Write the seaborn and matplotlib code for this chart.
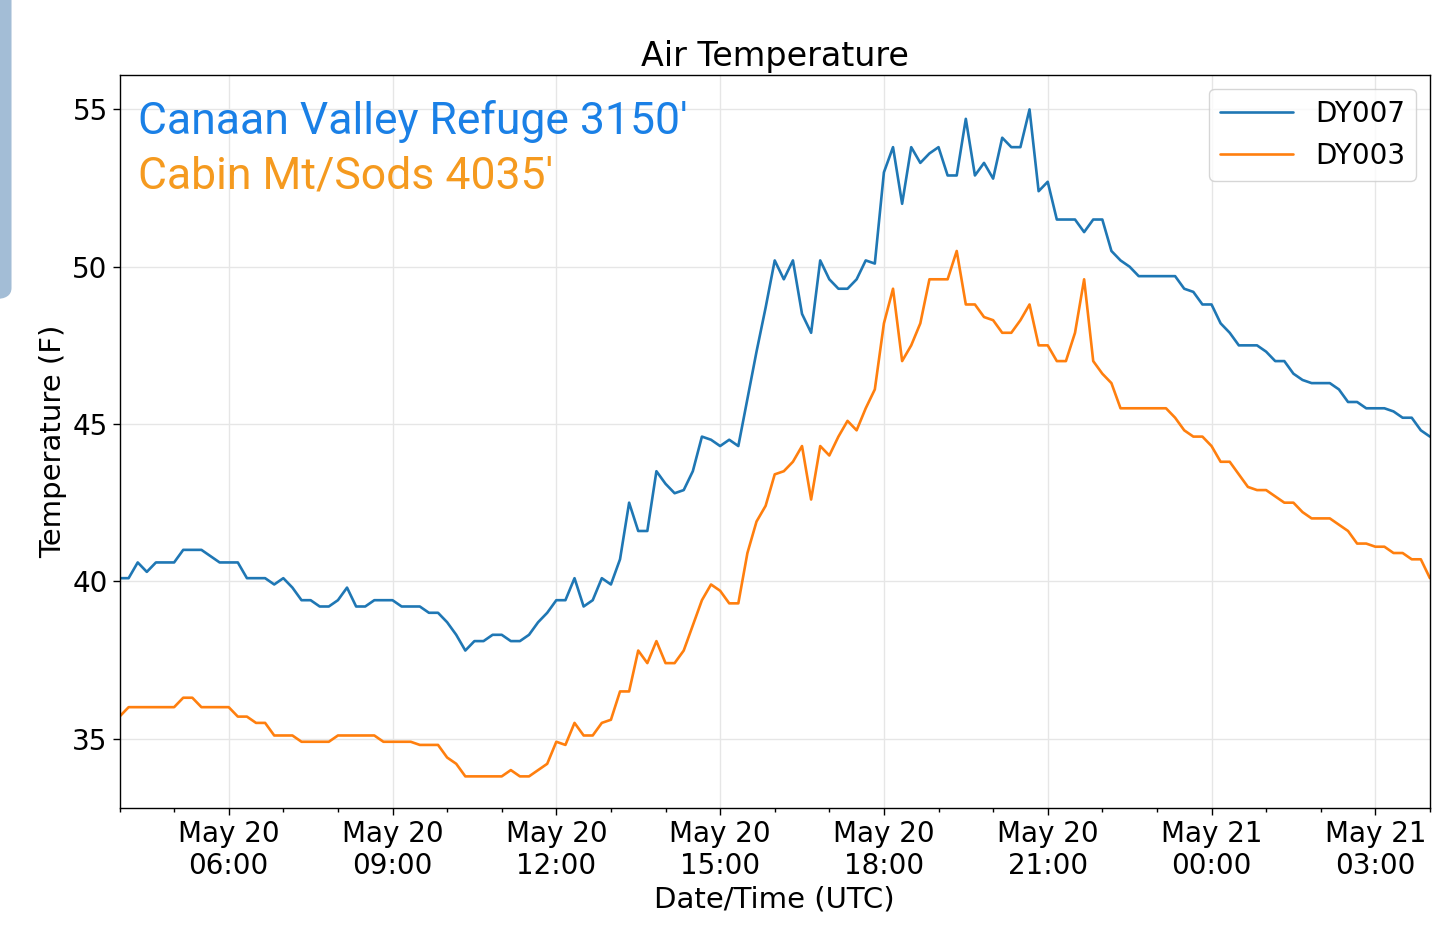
import matplotlib
matplotlib.use("Agg")
import matplotlib.pyplot as plt
import matplotlib.dates as mdates
from matplotlib.patches import FancyBboxPatch
import seaborn as sns
import pandas as pd

dy007 = [40.1,40.1,40.6,40.3,40.6,40.6,40.6,41.0,41.0,41.0,40.8,40.6,40.6,40.6,40.1,40.1,40.1,39.9,40.1,39.8,
         39.4,39.4,39.2,39.2,39.4,39.8,39.2,39.2,39.4,39.4,39.4,39.2,39.2,39.2,39.0,39.0,38.7,38.3,37.8,38.1,
         38.1,38.3,38.3,38.1,38.1,38.3,38.7,39.0,39.4,39.4,40.1,39.2,39.4,40.1,39.9,40.7,42.5,41.6,41.6,43.5,
         43.1,42.8,42.9,43.5,44.6,44.5,44.3,44.5,44.3,45.8,47.3,48.7,50.2,49.6,50.2,48.5,47.9,50.2,49.6,49.3,
         49.3,49.6,50.2,50.1,53.0,53.8,52.0,53.8,53.3,53.6,53.8,52.9,52.9,54.7,52.9,53.3,52.8,54.1,53.8,53.8,
         55.0,52.4,52.7,51.5,51.5,51.5,51.1,51.5,51.5,50.5,50.2,50.0,49.7,49.7,49.7,49.7,49.7,49.3,49.2,48.8,
         48.8,48.2,47.9,47.5,47.5,47.5,47.3,47.0,47.0,46.6,46.4,46.3,46.3,46.3,46.1,45.7,45.7,45.5,45.5,45.5,
         45.4,45.2,45.2,44.8,44.6]
dy003 = [35.7,36.0,36.0,36.0,36.0,36.0,36.0,36.3,36.3,36.0,36.0,36.0,36.0,35.7,35.7,35.5,35.5,35.1,35.1,35.1,
         34.9,34.9,34.9,34.9,35.1,35.1,35.1,35.1,35.1,34.9,34.9,34.9,34.9,34.8,34.8,34.8,34.4,34.2,33.8,33.8,
         33.8,33.8,33.8,34.0,33.8,33.8,34.0,34.2,34.9,34.8,35.5,35.1,35.1,35.5,35.6,36.5,36.5,37.8,37.4,38.1,
         37.4,37.4,37.8,38.6,39.4,39.9,39.7,39.3,39.3,40.9,41.9,42.4,43.4,43.5,43.8,44.3,42.6,44.3,44.0,44.6,
         45.1,44.8,45.5,46.1,48.2,49.3,47.0,47.5,48.2,49.6,49.6,49.6,50.5,48.8,48.8,48.4,48.3,47.9,47.9,48.3,
         48.8,47.5,47.5,47.0,47.0,47.9,49.6,47.0,46.6,46.3,45.5,45.5,45.5,45.5,45.5,45.5,45.2,44.8,44.6,44.6,
         44.3,43.8,43.8,43.4,43.0,42.9,42.9,42.7,42.5,42.5,42.2,42.0,42.0,42.0,41.8,41.6,41.2,41.2,41.1,41.1,
         40.9,40.9,40.7,40.7,40.1]

start = pd.Timestamp("2023-05-20 04:00")
df = pd.concat([
    pd.DataFrame({"time": pd.date_range(start, periods=len(dy007), freq="10min"), "temp": dy007, "station": "DY007"}),
    pd.DataFrame({"time": pd.date_range(start, periods=len(dy003), freq="10min"), "temp": dy003, "station": "DY003"}),
])

sns.set_theme(style="white")
plt.rcParams['font.family'] = ['DejaVu Sans']
plt.rcParams['text.color'] = 'black'
plt.rcParams['axes.labelcolor'] = 'black'
plt.rcParams['xtick.color'] = 'black'
plt.rcParams['ytick.color'] = 'black'
fig = plt.figure(figsize=(14.4, 9.35), dpi=100)
ax = fig.add_axes([0.083, 0.136, 0.910, 0.784])
sns.lineplot(data=df, x="time", y="temp", hue="station", palette=["#1f77b4", "#ff7f0e"], lw=1.9, ax=ax)
ax.set_xlim(start, pd.Timestamp("2023-05-21 04:00"))
ax.set_ylim(32.8, 56.1)
ax.set_yticks([35, 40, 45, 50, 55])
ax.xaxis.set_major_locator(mdates.HourLocator(byhour=[0, 3, 6, 9, 12, 15, 18, 21]))
ax.xaxis.set_minor_locator(mdates.HourLocator())
ax.xaxis.set_major_formatter(mdates.DateFormatter("%b %d\n%H:%M"))
ax.grid(True, color="#e6e6e6", lw=1)
for s in ax.spines.values():
    s.set_color("black"); s.set_linewidth(1)
ax.tick_params(axis="both", which="major", labelsize=20, length=5, width=1, color="black", bottom=True, left=True)
ax.tick_params(axis="x", which="minor", length=3, width=1, color="black", bottom=True)
for t in ax.get_xticklabels():
    t.set_ha("center")
ax.set_xlabel("Date/Time (UTC)", fontsize=21)
ax.set_ylabel("Temperature (F)", fontsize=21)
ax.set_title("Air Temperature", fontsize=24, pad=6)
leg = ax.legend(title=None, loc="upper right", fontsize=20, frameon=True, handlelength=2.6)
leg.get_frame().set_edgecolor("#cccccc")
ax.text(0.014, 0.965, "Canaan Valley Refuge 3150'", transform=ax.transAxes, fontsize=32,
        color="#1a80e6", family=["Roboto", "DejaVu Sans"], va="top")
ax.text(0.014, 0.89, "Cabin Mt/Sods 4035'", transform=ax.transAxes, fontsize=32,
        color="#f59a1f", family=["Roboto", "DejaVu Sans"], va="top")
fig.patches.append(FancyBboxPatch((-0.02, 0.68), 0.028, 0.40, boxstyle="round,pad=0,rounding_size=0.012",
                                  transform=fig.transFigure, facecolor="#a3bdd6", edgecolor="none"))
fig.savefig("out.png", dpi=100)
